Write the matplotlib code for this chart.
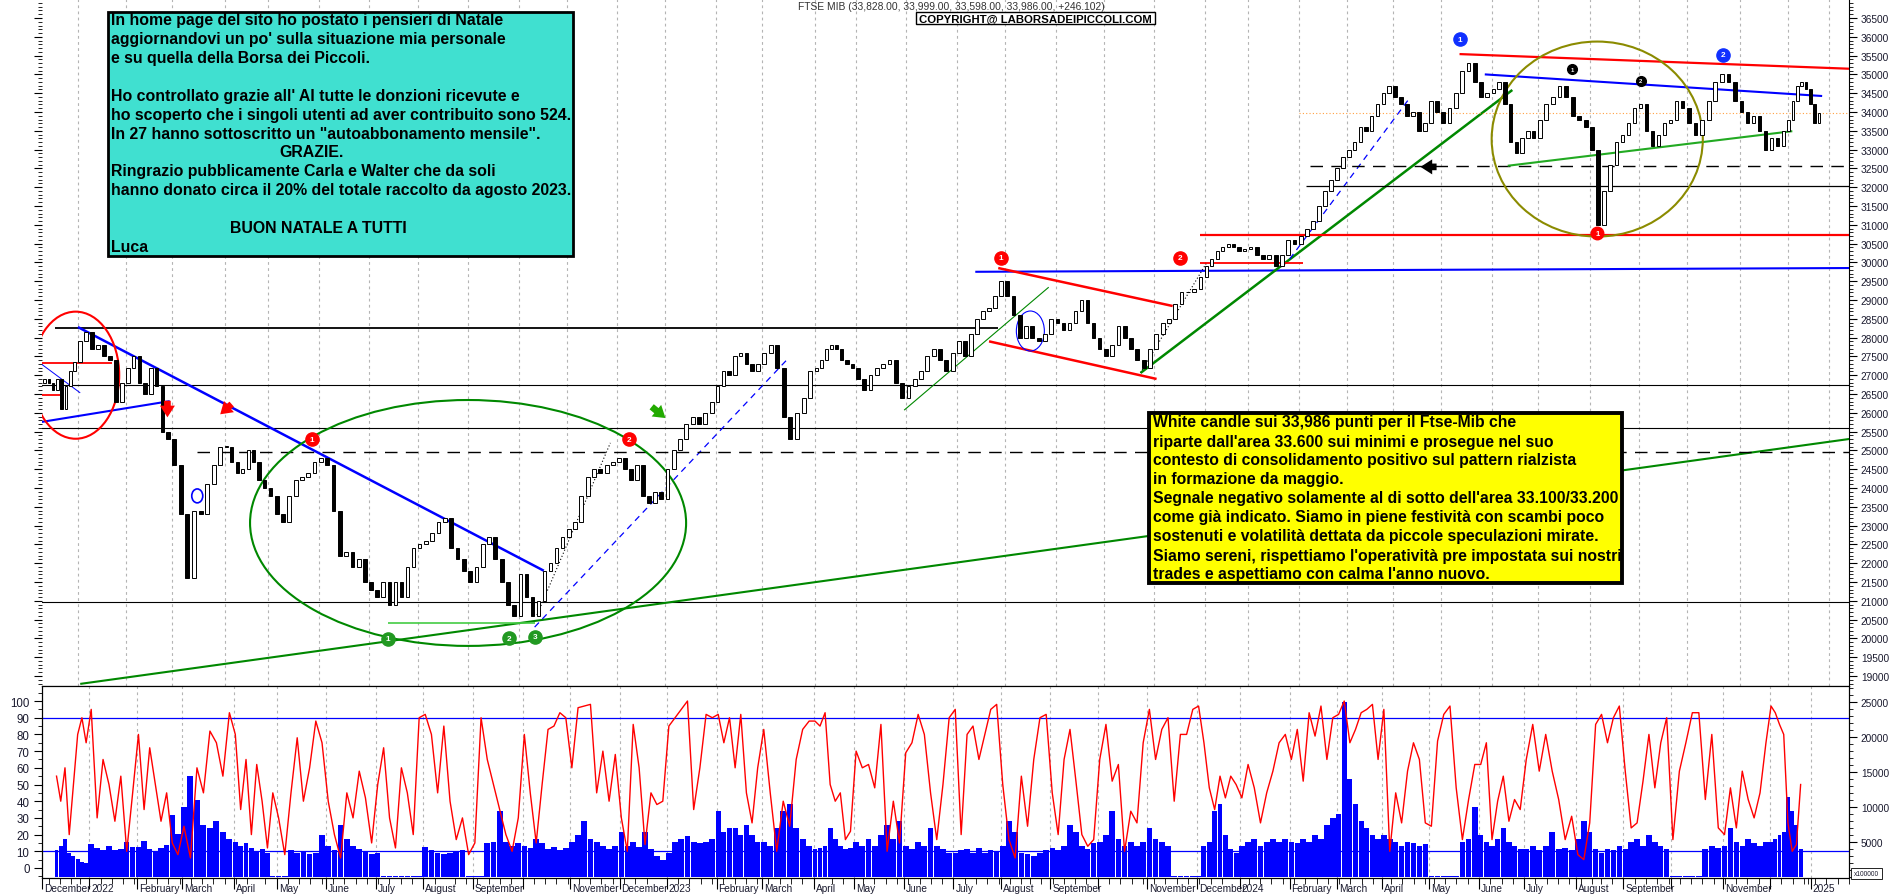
import numpy as np
import pandas as pd
import matplotlib
matplotlib.use("Agg")
import matplotlib.pyplot as plt
from matplotlib.patches import Ellipse, Rectangle
from matplotlib.transforms import Bbox, TransformedBbox, blended_transform_factory

plt.rcParams['font.family'] = ['Liberation Sans', 'DejaVu Sans']

# ---------------------------------------------------------------------------
# data: 8 readings per month (Dec 2021 .. Dec 2024)
# ---------------------------------------------------------------------------
months = pd.period_range('2021-12', '2024-12', freq='M')
last_session = '2024-12-20'
first_open = 26800

close = [
    26900, 26800, 26600, 26900, 26100, 26700, 27100, 27350,   # Dec 21
    27900, 28150, 27700, 27800, 27500, 27400, 26300, 26800,   # Jan 22
    27200, 27500, 26800, 26500, 27200, 26700, 25500, 25300,   # Feb
    24600, 23300, 21600, 23400, 23300, 24100, 24600, 25100,   # Mar
    25100, 24700, 24400, 24500, 25000, 24700, 24200, 24000,   # Apr
    23800, 23300, 23100, 23800, 24200, 24300, 24400, 24700,   # May
    24800, 24600, 23400, 22200, 22300, 21900, 22100, 21500,   # Jun
    21300, 21100, 21500, 20900, 21500, 21100, 21900, 22400,   # Jul
    22500, 22600, 22800, 23100, 23200, 22400, 22100, 21800,   # Aug
    21500, 21900, 22500, 22700, 22100, 21500, 20900, 20600,   # Sep
    21700, 21100, 20600, 21000, 21800, 22000, 22400, 22700,   # Oct
    22900, 23100, 23800, 24300, 24500, 24400, 24600, 24700,   # Nov
    24800, 24500, 24200, 24600, 23800, 23600, 23900, 23700,   # Dec
    24500, 25000, 25300, 25700, 25900, 25700, 26000, 26300,   # Jan 23
    26700, 27100, 27000, 27500, 27600, 27300, 27100, 27300,   # Feb
    27600, 27800, 27200, 25900, 25300, 26000, 26400, 27100,   # Mar
    27200, 27400, 27700, 27800, 27700, 27400, 27300, 27200,   # Apr
    26900, 26600, 27000, 27200, 27300, 27400, 26800, 26400,   # May
    26700, 26900, 27100, 27500, 27700, 27400, 27100, 27600,   # Jun
    27900, 27500, 28100, 28500, 28700, 28800, 29100, 29500,   # Jul
    29100, 28600, 28000, 28300, 28000, 27900, 28100, 28500,   # Aug
    28400, 28200, 28400, 28700, 29000, 28400, 28000, 27700,   # Sep
    27500, 27800, 28300, 28000, 27700, 27400, 27200, 27700,   # Oct
    28100, 28400, 28500, 28900, 29200, 29200, 29300, 29600,   # Nov
    29900, 30100, 30300, 30400, 30500, 30400, 30300, 30350,   # Dec
    30400, 30200, 30100, 30200, 29900, 30200, 30600, 30500,   # Jan 24
    30700, 30900, 31100, 31500, 31900, 32200, 32500, 32800,   # Feb
    33000, 33200, 33600, 33500, 33900, 34200, 34500, 34700,   # Mar
    34400, 34200, 33900, 34000, 33500, 33700, 34300, 34000,   # Apr
    33700, 34100, 34500, 35100, 35300, 34800, 34400, 34500,   # May
    34600, 34800, 34200, 33200, 32900, 33300, 33500, 33300,   # Jun
    33800, 34200, 34400, 34700, 34400, 33900, 33800, 33600,   # Jul
    33000, 31000, 31900, 32600, 33200, 33400, 33700, 34100,   # Aug
    34200, 33500, 33100, 33400, 33700, 33800, 34300, 34100,   # Sep
    33700, 33400, 33800, 34300, 34800, 35000, 34800, 34300,   # Oct
    34000, 33700, 33900, 33500, 33000, 33300, 33100, 33500,   # Nov
    33800, 34300, 34700, 34800, 34600, 34200, 33700, 33986,   # Dec
]

osc = [
    55, 40, 60, 20, 50, 80, 90, 75,
    95, 30, 65, 50, 28, 55, 10, 45,
    80, 35, 72, 50, 28, 45, 15, 8,
    25, 6, 60, 45, 82, 75, 55, 93,
    80, 35, 65, 20, 62, 40, 12, 45,
    30, 8, 45, 78, 40, 60, 88, 75,
    40, 20, 6, 45, 30, 58, 42, 15,
    50, 72, 30, 12, 60, 45, 20, 90,
    92, 80, 45, 85, 40, 17, 30, 8,
    15, 90, 65, 50, 35, 20, 10, 30,
    80, 45, 15, 50, 83, 85, 93, 90,
    60, 96, 97, 98, 45, 70, 40, 68,
    30, 10, 86, 60, 14, 45, 38, 40,
    85, 90, 95, 100, 35, 60, 92, 90,
    92, 75, 90, 60, 92, 45, 27, 60,
    83, 45, 10, 40, 25, 65, 83, 88,
    88, 85, 93, 50, 40, 45, 17, 22,
    70, 60, 62, 48, 86, 10, 40, 15,
    69, 75, 92, 80, 45, 17, 50, 90,
    95, 20, 80, 85, 65, 80, 95, 98,
    50, 17, 6, 55, 25, 65, 90, 92,
    45, 20, 65, 83, 52, 20, 13, 17,
    65, 86, 52, 62, 10, 34, 27, 75,
    95, 65, 83, 90, 40, 80, 80, 95,
    97, 75, 48, 35, 55, 42, 55, 50,
    42, 62, 48, 27, 45, 58, 75, 80,
    65, 83, 52, 93, 79, 97, 65, 90,
    92, 100, 75, 83, 93, 95, 98, 65,
    95, 10, 45, 27, 58, 75, 65, 27,
    25, 76, 92, 97, 48, 17, 41, 62,
    62, 75, 17, 40, 55, 28, 41, 35,
    65, 86, 58, 80, 58, 41, 17, 31,
    8, 5, 27, 86, 92, 75, 90, 97,
    58, 24, 27, 52, 80, 48, 75, 90,
    17, 58, 75, 93, 93, 41, 80, 24,
    20, 48, 24, 58, 41, 30, 45, 75,
    97, 93, 86, 80, 27, 10, 14, 50,
]

volume = [
    3800, 4500, 5500, 3500, 3000, 2600, 2200, 2000,
    4700, 4200, 3800, 4500, 3900, 4000, 5000, 4300,
    4300, 5200, 4000, 3700, 4100, 4600, 8800, 6200,
    10000, 14500, 11000, 7500, 7000, 8000, 6500, 5500,
    5000, 4500, 4800, 4200, 3600, 4000, 3500, 150,
    150, 150, 3800, 3500, 3700, 3300, 3400, 6000,
    4500, 3800, 7500, 5500, 4500, 4000, 3600, 3300,
    3500, 150, 150, 150, 150, 150, 150, 150,
    4300, 3800, 3500, 3300, 3500, 3700, 3800, 150,
    150, 150, 4800, 5000, 9500, 5000, 4500, 4800,
    4500, 4200, 5500, 4800, 4000, 4300, 3800, 4200,
    5000, 6000, 8000, 5500, 5000, 4500, 4000, 4500,
    6500, 4500, 5000, 4300, 6500, 4000, 3000, 2500,
    3500, 5000, 5500, 5800, 5000, 4800, 5000, 5500,
    9500, 6500, 7000, 7000, 6000, 7500, 6000, 5000,
    5000, 4500, 7000, 9500, 10500, 7000, 5500, 4500,
    4000, 4200, 4500, 7000, 5500, 4500, 4000, 4200,
    5000, 4500, 5500, 4500, 6000, 7500, 5500, 8000,
    4500, 4000, 5000, 4500, 7000, 4500, 4000, 3500,
    3500, 3800, 4000, 3500, 4200, 3500, 3800, 3600,
    4500, 8000, 6500, 3500, 3300, 3000, 3400, 3800,
    4200, 3900, 4500, 7500, 6500, 4500, 4000, 4800,
    5000, 6000, 9500, 5500, 4500, 5000, 4500, 5000,
    7000, 5500, 5000, 4500, 150, 150, 150, 150,
    150, 4500, 5000, 9500, 10500, 6000, 4000, 3500,
    4500, 5000, 5500, 4500, 5000, 5500, 5000, 5500,
    5000, 4800, 5500, 5000, 6000, 5500, 7500, 8500,
    9000, 25000, 14000, 10500, 8000, 7000, 6000, 5500,
    6000, 5500, 5000, 4500, 5000, 4800, 4500, 4700,
    150, 150, 150, 150, 150, 5000, 5500, 10000,
    6000, 5000, 4500, 5500, 7000, 5000, 4500, 4000,
    4000, 4500, 3800, 4500, 6500, 4000, 4200, 3800,
    5500, 8000, 6500, 4000, 3500, 4000, 3800, 4500,
    4000, 5000, 5500, 4500, 6000, 5000, 4500, 4000,
    150, 150, 150, 150, 150, 4000, 4500, 4200,
    4500, 7000, 5000, 4500, 5500, 4800, 4500, 5000,
    5000, 5500, 6000, 6500, 11500, 9500, 7500, 4000,
]

holidays = ['2021-12-24', '2021-12-31', '2022-04-15', '2022-04-18', '2022-08-15',
            '2022-12-26', '2023-04-07', '2023-04-10', '2023-05-01', '2023-08-15',
            '2023-12-25', '2023-12-26', '2024-01-01', '2024-03-29', '2024-04-01',
            '2024-05-01', '2024-08-15', '2024-12-24', '2024-12-25', '2024-12-26',
            '2024-12-31', '2025-01-01']

cyan_text = [
    "In home page del sito ho postato i pensieri di Natale",
    "aggiornandovi un po' sulla situazione mia personale",
    "e su quella della Borsa dei Piccoli.",
    "",
    "Ho controllato grazie all' AI tutte le donzioni ricevute e",
    "ho scoperto che i singoli utenti ad aver contribuito sono 524.",
    "In 27 hanno sottoscritto un \"autoabbonamento mensile\".",
    "GRAZIE.",
    "Ringrazio pubblicamente Carla e Walter che da soli",
    "hanno donato circa il 20% del totale raccolto da agosto 2023.",
    "",
    "BUON NATALE A TUTTI",
    "Luca",
]

yellow_text = [
    "White candle sui 33,986 punti per il Ftse-Mib che",
    "riparte dall'area 33.600 sui minimi e prosegue nel suo",
    "contesto di consolidamento positivo sul pattern rialzista",
    "in formazione da maggio.",
    "Segnale negativo solamente al di sotto dell'area 33.100/33.200",
    "come già indicato. Siamo in piene festività con scambi poco",
    "sostenuti e volatilità dettata da piccole speculazioni mirate.",
    "Siamo sereni, rispettiamo l'operatività pre impostata sui nostri",
    "trades e aspettiamo con calma l'anno nuovo.",
]

# ---------------------------------------------------------------------------
# trading calendar -> x index (0 = first session on the chart)
# ---------------------------------------------------------------------------
cal = pd.bdate_range('2021-12-01', '2025-01-31')
cal = cal[~cal.isin(pd.to_datetime(holidays))]
offset = cal.searchsorted(pd.Timestamp('2021-12-09'))


def tx(d):
    return float(cal.searchsorted(pd.Timestamp(d)) - offset)


sessions = cal[(cal >= pd.Timestamp('2021-12-09')) & (cal <= pd.Timestamp(last_session))]
per = len(close) // len(months)
xs, spacing = [], []
for m in months:
    idx = np.flatnonzero((sessions.year == m.year) & (sessions.month == m.month))
    s, n = idx[0], len(idx)
    for j in range(per):
        xs.append(s + (j + 0.5) * n / per - 0.5)
        spacing.append(n / per)
xs = np.array(xs)
spacing = np.array(spacing)

# month starts for ticks / grid (Dec 2021 .. Jan 2025)
tick_months = pd.period_range('2021-12', '2025-01', freq='M')
month_x = [tx(m.start_time) for m in tick_months]
week_x = [tx(d) for d in cal[cal.weekday == 0]]

# ---------------------------------------------------------------------------
# figure layout (pixel geometry of the original)
# ---------------------------------------------------------------------------
W, H = 1890, 895
fig = plt.figure(figsize=(W / 100, H / 100), dpi=100)
L, R = 42 / W, 1849 / W
ax = fig.add_axes([L, 1 - 687 / H, R - L, 687 / H])
axv = fig.add_axes([L, 1 - 879 / H, R - L, (879 - 687) / H])
axo = axv.twinx()

XMIN, XMAX = -0.65, 786.7
for a in (ax, axv, axo):
    a.set_xlim(XMIN, XMAX)

ax.set_ylim(18734, 37005)
axv.set_ylim(-143, 27290)
axo.set_ylim(-6, 109)

grid_kw = dict(color='#b4b4b4', lw=0.8, ls=(0, (2.5, 3)), zorder=0)
for x in month_x:
    ax.axvline(x, **grid_kw)
    axv.axvline(x, **grid_kw)

# ---------------------------------------------------------------------------
# price candles
# ---------------------------------------------------------------------------
c = np.array(close, float)
o = np.r_[first_open, c[:-1]]
lo = np.minimum(o, c)
hi = np.maximum(o, c)
up = c >= o
ax.bar(xs, np.maximum(hi - lo, 25), width=0.6 * spacing, bottom=lo,
       color=np.where(up, 'white', 'black'), edgecolor='black', linewidth=0.7, zorder=4)

# ---------------------------------------------------------------------------
# drawn analysis: horizontal levels, trendlines, ellipses, markers
# ---------------------------------------------------------------------------
for lvl in (26750, 25600, 20970):
    ax.axhline(lvl, color='black', lw=0.8, zorder=2)

END = '2025-01-15'
dash = (0, (9, 6))
trendlines = [
    ('2021-12-16', 28250, '2023-07-27', 28250, 'black', 1.3, '-'),
    ('2021-12-08', 27330, '2022-01-24', 27330, 'red', 1.3, '-'),
    ('2021-12-08', 26480, '2021-12-20', 26480, 'red', 1.3, '-'),
    ('2021-12-08', 27300, '2022-01-04', 26530, 'blue', 0.7, '-'),
    ('2021-12-08', 25755, '2022-02-28', 26310, 'blue', 1.5, '-'),
    ('2022-01-03', 28280, '2022-10-18', 21800, 'blue', 1.8, '-'),
    ('2022-01-04', 18790, END, 25305, '#008800', 1.5, '-'),
    ('2022-07-13', 20400, '2022-10-12', 20400, '#44cc44', 1.2, '-'),
    ('2022-10-12', 20300, '2023-03-17', 27480, 'blue', 0.9, (0, (5, 4))),
    ('2022-10-13', 20620, '2022-11-28', 25200, 'black', 0.8, (0, (1, 2))),
    ('2022-03-16', 24950, END, 24950, 'black', 1.0, dash),
    ('2023-05-31', 26070, '2023-08-29', 29340, '#008800', 0.8, '-'),
    ('2023-07-13', 29750, END, 29850, 'blue', 1.5, '-'),
    ('2023-07-27', 29850, '2023-11-13', 28840, 'red', 1.8, '-'),
    ('2023-07-21', 27900, '2023-11-02', 26900, 'red', 1.8, '-'),
    ('2023-10-24', 27060, '2023-12-04', 30010, 'black', 0.8, (0, (1, 2))),
    ('2023-10-24', 27060, '2024-06-14', 34585, '#008800', 1.8, '-'),
    ('2023-11-29', 30730, END, 30730, 'red', 1.6, '-'),
    ('2023-11-29', 29980, '2024-02-05', 29980, 'red', 1.3, '-'),
    ('2024-01-26', 30090, '2024-04-11', 34350, 'blue', 0.9, (0, (5, 4))),
    ('2024-02-06', 32030, END, 32030, 'black', 0.9, '-'),
    ('2024-02-08', 32570, END, 32570, 'black', 1.0, dash),
    ('2024-02-01', 33986, END, 33986, '#ffa040', 0.8, (0, (1, 2))),
    ('2024-05-14', 35540, END, 35150, 'red', 1.6, '-'),
    ('2024-05-29', 35000, '2024-12-23', 34425, 'blue', 1.5, '-'),
    ('2024-06-12', 32570, '2024-12-04', 33490, '#22aa22', 1.5, '-'),
]
for d0, p0, d1, p1, col, lw, ls in trendlines:
    ax.plot([tx(d0), tx(d1)], [p0, p1], color=col, lw=lw, ls=ls, zorder=3,
            solid_capstyle='butt')

ellipses = [
    ('2021-12-30', 27000, 38, 3380, 'red', 1.5),
    ('2022-09-01', 23070, 190, 6540, '#008800', 1.5),
    ('2024-08-06', 33280, 92, 5186, '#8b8b00', 1.5),
    ('2022-03-16', 23790, 4.8, 370, 'blue', 1.2),
    ('2023-08-17', 28175, 12.2, 1064, 'blue', 0.8),
]
for d, p, w, h, col, lw in ellipses:
    ax.add_patch(Ellipse((tx(d), p), w, h, fill=False, ec=col, lw=lw, zorder=3))

markers = [
    ('2022-07-13', 19990, '#229922', '1', 9.5), ('2022-09-27', 20010, '#229922', '2', 9.5),
    ('2022-10-12', 20040, '#229922', '3', 9.5),
    ('2022-05-27', 25300, 'red', '1', 9.5), ('2022-12-08', 25300, 'red', '2', 9.5),
    ('2023-07-28', 30120, 'red', '1', 9.5), ('2023-11-16', 30120, 'red', '2', 9.5),
    ('2024-05-14', 35940, '#1030ff', '1', 9.5), ('2024-10-23', 35520, '#1030ff', '2', 9.5),
    ('2024-07-22', 35140, 'black', '1', 7), ('2024-09-03', 34825, 'black', '2', 7),
    ('2024-08-06', 30780, 'red', '1', 9),
]
for d, p, col, lab, ms in markers:
    ax.plot(tx(d), p, 'o', ms=ms, mfc=col, mec=col, zorder=6)
    ax.text(tx(d), p, lab, color='white', fontsize=ms * 0.62, fontweight='bold',
            ha='center', va='center', zorder=7)

arrows = [
    ('2022-02-25', 26320, '2022-02-25', 25880, 'red'),
    ('2022-04-06', 26230, '2022-03-30', 25960, 'red'),
    ('2022-12-22', 26160, '2023-01-02', 25860, '#22aa00'),
    ('2024-04-29', 32540, '2024-04-18', 32540, 'black'),
]
for d0, p0, d1, p1, col in arrows:
    ax.annotate('', xy=(tx(d1), p1), xytext=(tx(d0), p0), zorder=6,
                arrowprops=dict(arrowstyle='simple,head_width=0.9,head_length=0.7,tail_width=0.4',
                                mutation_scale=12, color=col, lw=0,
                                shrinkA=0, shrinkB=0))

# ---------------------------------------------------------------------------
# lower panel: volume (right scale) and oscillator (left scale)
# ---------------------------------------------------------------------------
axv.bar(xs, volume, width=0.92 * spacing, color='#0000ff', linewidth=0, zorder=2)
axo.plot(xs, osc, color='red', lw=1.0, zorder=3)
axo.axhline(90, color='blue', lw=0.9)
axo.axhline(10, color='blue', lw=0.9)

# axes / ticks
tick_kw = dict(labelsize=7.3, labelcolor='#1a1a2e', colors='black')
ax.tick_params(axis='x', which='both', bottom=False, top=False, labelbottom=False)
ax.yaxis.set_major_locator(plt.FixedLocator(range(19000, 36501, 500)))
ax.yaxis.set_minor_locator(plt.MultipleLocator(100))
ax.yaxis.set_major_formatter(plt.FuncFormatter(lambda v, _: f"{v:.0f}"))
ax.tick_params(axis='y', which='both', left=True, right=True, labelleft=False,
               labelright=True, direction='out')
ax.tick_params(axis='y', which='major', length=6, pad=2.5, **tick_kw)
ax.tick_params(axis='y', which='minor', length=3)
ax.spines['left'].set_visible(False)
ax.spines['top'].set_visible(False)

axv.yaxis.tick_right()
axv.set_yticks(range(5000, 25001, 5000))
axv.yaxis.set_minor_locator(plt.MultipleLocator(1000))
axv.tick_params(axis='y', which='major', length=6, pad=2.5, **tick_kw)
axv.tick_params(axis='y', which='minor', length=3)

axo.yaxis.tick_left()
axo.set_yticks(range(0, 101, 10))
axo.yaxis.set_minor_locator(plt.MultipleLocator(5))
axo.tick_params(axis='y', which='major', length=6, pad=3, labelsize=8.3,
                labelcolor='#1a1a2e', colors='black')
axo.tick_params(axis='y', which='minor', length=3)
axo.tick_params(axis='x', which='both', bottom=False, labelbottom=False)

axv.set_xticks(month_x)
axv.set_xticks(week_x, minor=True)
axv.tick_params(axis='x', which='major', length=8, labelbottom=False, direction='out')
axv.tick_params(axis='x', which='minor', length=4, direction='out')

# month labels, clipped to the plot width like the original
clip = TransformedBbox(Bbox.from_extents(L, 0, R, 1), fig.transFigure)
lab_tr = blended_transform_factory(axv.transData, fig.transFigure)
skip = {pd.Period('2024-12', 'M')}
for m, x in zip(tick_months, month_x):
    if m.month == 10 or m in skip:
        continue
    name = str(m.year) if m.month == 1 else m.strftime('%B')
    t = fig.text(x + 0.9, 1 - 889 / H, name, transform=lab_tr, fontsize=7.3,
                 color='#1a1a2e', ha='left', va='center')
    t.set_clip_box(clip)
    t.set_clip_on(True)

# ---------------------------------------------------------------------------
# text boxes and header
# ---------------------------------------------------------------------------
renderer = fig.canvas.get_renderer()


def fit_size(s, target_px, **kw):
    t = fig.text(0, 0, s, fontsize=10, **kw)
    w = t.get_window_extent(renderer).width
    t.remove()
    return 10 * target_px / w


def fx(x):
    return x / W


def fy(y):
    return 1 - y / H


def box(x0, y0, x1, y1, fc, lw):
    fig.add_artist(Rectangle((fx(x0), fy(y1)), fx(x1) - fx(x0), fy(y0) - fy(y1),
                             transform=fig.transFigure, fc=fc, ec='black', lw=lw, zorder=20))


box(108, 13, 573, 257, '#40e0d0', 2.0)
fs = fit_size(cyan_text[5], 458, fontweight='bold')
for i, s in enumerate(cyan_text):
    x = 111
    if s == "GRAZIE.":
        x = 279
    elif s.startswith("BUON"):
        x = 230
    fig.text(fx(x), fy(21 + 18.85 * i), s, fontsize=fs, fontweight='bold',
             ha='left', va='center', zorder=21)

box(1149, 414, 1622, 584, '#ffff00', 2.8)
fs = fit_size(yellow_text[4], 465, fontweight='bold')
for i, s in enumerate(yellow_text):
    fig.text(fx(1153), fy(423 + 19 * i), s, fontsize=fs, fontweight='bold',
             ha='left', va='center', zorder=21)

title = "FTSE MIB (33,828.00, 33,999.00, 33,598.00, 33,986.00, +246.102)"
fig.text(fx(798), fy(7), title, fontsize=fit_size(title, 305), color='#333333',
         ha='left', va='center', zorder=21)
box(916, 13, 1155, 25, 'white', 1.0)
cp = "COPYRIGHT@ LABORSADEIPICCOLI.COM"
fig.text(fx(1035.5), fy(19.5), cp, fontsize=fit_size(cp, 233, fontweight='bold'),
         fontweight='bold', ha='center', va='center', zorder=21)

box(1851, 869, 1882, 880, 'white', 0.6)
fig.text(fx(1866.5), fy(874.5), "x100000", fontsize=4.8, ha='center', va='center',
         color='#1a1a2e', zorder=21)

fig.savefig('out.png', dpi=100)
